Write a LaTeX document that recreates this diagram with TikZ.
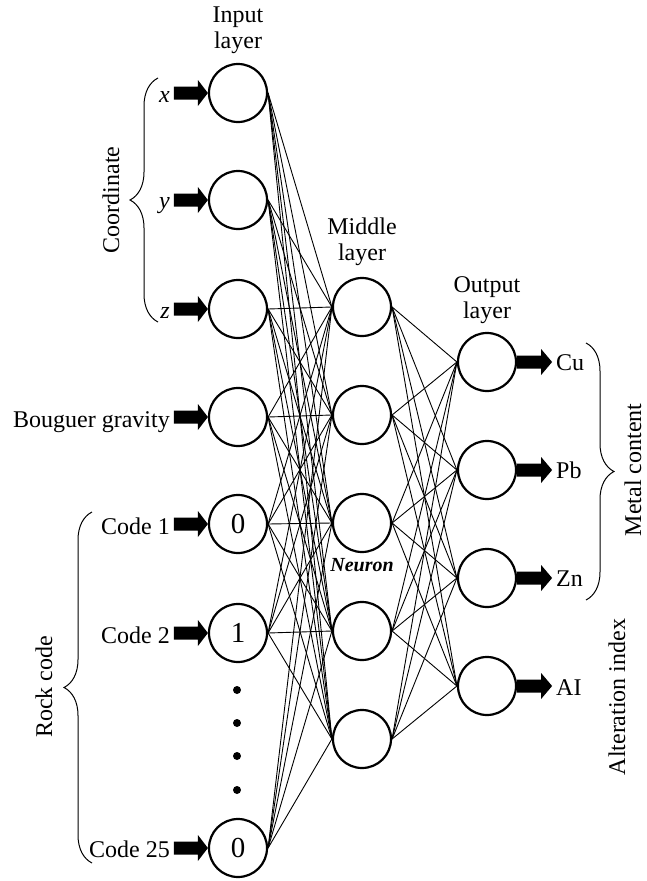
\documentclass[tikz,border=0pt]{standalone}
\usepackage{fontspec}
\setmainfont{Liberation Serif}
\usetikzlibrary{calc,decorations.pathreplacing}
\newcommand\inarr[1]{\fill ($(#1.west)+(-34,-6.5)$) -- ($(#1.west)+(-10,-6.5)$) -- ($(#1.west)+(-10,-13)$) -- (#1.west) -- ($(#1.west)+(-10,13)$) -- ($(#1.west)+(-10,6.5)$) -- ($(#1.west)+(-34,6.5)$) -- cycle;}
\newcommand\outarr[1]{\fill (#1.east) ++(0,-6.5) -- ++(24,0) -- ++(0,-6.5) -- ++(11,13) -- ++(-11,13) -- ++(0,-6.5) -- ++(-24,0) -- cycle;}
\begin{document}
\begin{tikzpicture}[x=1pt,y=-1pt,
  neuron/.style={circle,draw,line width=2.2pt,minimum size=58pt,inner sep=0pt,font=\fontsize{29}{30}\selectfont},
  lbl/.style={inner sep=0pt,font=\fontsize{24}{26}\selectfont},
  link/.style={line width=0.9pt},
  brc/.style={decorate,decoration={brace,amplitude=28pt},line width=1pt},
]
\useasboundingbox (0,0) rectangle (647,881);
% input layer
\node[neuron] (i1) at (238,93) {};
\node[neuron] (i2) at (238,200) {};
\node[neuron] (i3) at (238,309) {};
\node[neuron] (i4) at (238,417) {};
\node[neuron] (i5) at (238,524) {0};
\node[neuron] (i6) at (238,633) {1};
\node[neuron] (i7) at (238,848) {0};
% middle layer
\node[neuron] (m1) at (362,307) {};
\node[neuron] (m2) at (362,415) {};
\node[neuron] (m3) at (362,523) {};
\node[neuron] (m4) at (362,631) {};
\node[neuron] (m5) at (362,739) {};
% output layer
\node[neuron] (o1) at (487,362) {};
\node[neuron] (o2) at (487,470) {};
\node[neuron] (o3) at (487,578) {};
\node[neuron] (o4) at (487,686) {};
% links
\foreach \i in {1,...,7}{\foreach \m in {1,...,5}{\draw[link] (i\i.east) -- (m\m.west);}}
\foreach \m in {1,...,5}{\foreach \o in {1,...,4}{\draw[link] (m\m.east) -- (o\o.west);}}
% dots
\foreach \yy in {690,723,756,790}{\fill (237,\yy) circle (4pt);}
% arrows
\foreach \i in {1,...,7}{\inarr{i\i}}
\foreach \o in {1,...,4}{\outarr{o\o}}
% input labels
\node[lbl,anchor=base east] (lx) at (170,102) {\textit{x}};
\node[lbl,anchor=base east] (ly) at (170,208) {\textit{y}};
\node[lbl,anchor=base east] (lz) at (170,318) {\textit{z}};
\node[lbl,anchor=base east] (lb) at (170,427) {Bouguer gravity};
\node[lbl,anchor=base east] (lc1) at (170,534) {Code 1};
\node[lbl,anchor=base east] (lc2) at (170,643) {Code 2};
\node[lbl,anchor=base east] (lc25) at (170,857) {Code 25};
% output labels
\node[lbl,anchor=base west] (lcu) at (556,370) {Cu};
\node[lbl,anchor=base west] (lpb) at (556,478) {Pb};
\node[lbl,anchor=base west] (lzn) at (556,586) {Zn};
\node[lbl,anchor=base west] (lai) at (556,695) {AI};
% layer titles
\node[lbl,align=center] (tin) at (238,30) {Input\\layer};
\node[lbl,align=center] (tmid) at (362,242) {Middle\\layer};
\node[lbl,align=center] (tout) at (487,300) {Output\\layer};
\node[inner sep=0pt,font=\fontsize{20}{24}\selectfont\bfseries\itshape] (neu) at (362,565) {Neuron};
% braces
\draw[brc] (158,322) -- (158,78);
\draw[brc] (92,863) -- (92,512);
\draw[brc] (586,343) -- (586,600);
\node[lbl,rotate=90] (tco) at (111,200) {Coordinate};
\node[lbl,rotate=90] (trc) at (44,687) {Rock code};
\node[lbl,rotate=90] (tmc) at (633,470) {Metal content};
\node[lbl,rotate=90] (tai) at (617,697) {Alteration index};
\end{tikzpicture}
\end{document}
